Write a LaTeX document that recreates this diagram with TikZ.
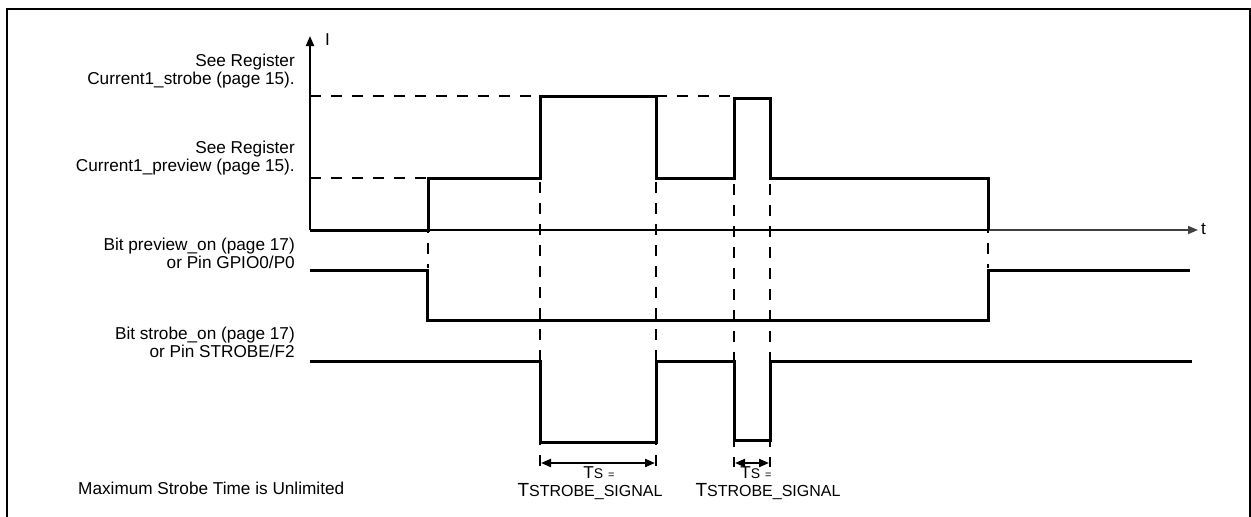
\documentclass[tikz,border=0pt]{standalone}
\usepackage{fontspec}
\setmainfont{Liberation Sans}
\usetikzlibrary{arrows.meta}
\newcommand\smc[1]{{\fontsize{14}{16}\selectfont #1}}
\newcommand\smcb[1]{{\fontsize{16}{16}\selectfont #1}}
\newcommand\bigT{{\fontsize{19}{16}\selectfont T}}
\newcommand\smeq{{\fontsize{11}{12}\selectfont =}}
\begin{document}
\begin{tikzpicture}[x=1pt,y=-1pt,
  lbl/.style={font=\fontsize{17.2}{16}\selectfont, inner sep=0pt, align=right, anchor=base east},
  plain/.style={font=\fontsize{17.2}{16}\selectfont, inner sep=0pt},
  sig/.style={line width=3pt, line join=miter},
  axis/.style={line width=2pt},
  guide/.style={line width=2pt, dash pattern=on 11pt off 10pt},
  dim/.style={line width=2pt, {Triangle[length=10pt,width=8pt]}-{Triangle[length=10pt,width=8pt]}},
  tip/.style={-{Triangle[length=10pt,width=8pt]}}]
\useasboundingbox (0,0) rectangle (1251,517);
% frame (open at bottom edge, clipped)
\begin{scope}
\clip (0,0) rectangle (1251,517);
\draw[line width=2pt] (7,525) -- (7,9) -- (1249.5,9) -- (1249.5,525);
\end{scope}
% axes
\coordinate (org) at (310,230);
\coordinate (ytop) at (310,36);
\coordinate (tend) at (1198,230);
\coordinate (t988) at (988,230);
\draw[axis,tip] (org) -- (ytop);
\draw[axis] (org) -- (t988);
\draw[line width=1.5pt, black!75, tip] (t988) -- (tend);
\node[plain, anchor=west] (I) at (325,40) {I};
\node[plain, anchor=west] (t) at (1201,229) {t};
% guide lines (dashed)
\draw[guide] (310,96) -- (540,96);
\draw[guide] (656,96) -- (734,96);
\draw[guide] (310,178) -- (428,178);
\draw[guide] (428,180) -- (428,268);
\draw[guide] (540,98) -- (540,468);
\draw[guide] (656,98) -- (656,468);
\draw[guide] (734,100) -- (734,467);
\draw[guide] (770,100) -- (770,467);
\draw[guide] (988,180) -- (988,268);
% current waveform
\draw[sig] (310,230) -- (428,230) -- (428,178) -- (540,178) -- (540,96) -- (656,96) -- (656,178)
  -- (734,178) -- (734,98) -- (770,98) -- (770,178) -- (988,178) -- (988,230);
% preview_on
\draw[sig] (310,270) -- (427,270) -- (427,320) -- (988,320) -- (988,270) -- (1190,270);
% strobe_on
\draw[sig] (310,361) -- (540,361) -- (540,442) -- (656,442) -- (656,361) -- (734,361)
  -- (734,440) -- (770,440) -- (770,361) -- (1192,361);
% dimension arrows
\coordinate (d1a) at (541,463); \coordinate (d1b) at (655,463);
\coordinate (d2a) at (735,463); \coordinate (d2b) at (769,463);
\draw[dim] (d1a) -- (d1b);
\draw[dim] (d2a) -- (d2b);
% labels
\node[lbl] (l1) at (295,84) {See Register\\Current1\_strobe (page 15).};
\node[lbl] (l2) at (295,171) {See Register\\Current1\_preview (page 15).};
\node[lbl] (l3) at (295,268) {Bit preview\_on (page 17)\\or Pin GPIO0/P0};
\node[lbl] (l4) at (295,357) {Bit strobe\_on (page 17)\\or Pin STROBE/F2};
\node[plain, anchor=base west] (max) at (78,494) {Maximum Strobe Time is Unlimited};
\node[plain, anchor=base] (ts1) at (599,478) {T\smc{S} \smeq};
\node[plain, anchor=base] (tsig1) at (590,496) {\bigT\smcb{STROBE\_SIGNAL}};
\node[plain, anchor=base] (ts2) at (756,478) {T\smc{S} \smeq};
\node[plain, anchor=base] (tsig2) at (768,496) {\bigT\smcb{STROBE\_SIGNAL}};
\end{tikzpicture}
\end{document}
